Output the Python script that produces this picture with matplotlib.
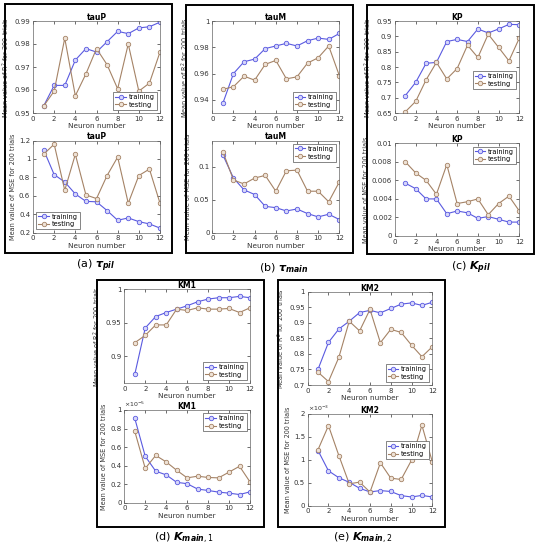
import matplotlib
matplotlib.use("Agg")
import matplotlib.pyplot as plt
from matplotlib.patches import Rectangle
from matplotlib.ticker import FuncFormatter

W, H = 543, 550

neurons = list(range(1, 13))

# R^2 and MSE
tauP_r2_train = [0.953, 0.962, 0.962, 0.973, 0.978, 0.9765, 0.981, 0.9855, 0.9845, 0.987, 0.9875, 0.9895]
tauP_r2_test = [0.953, 0.9595, 0.9825, 0.9575, 0.967, 0.978, 0.971, 0.9605, 0.980, 0.9595, 0.963, 0.9765]
tauP_mse_train = [1.10, 0.83, 0.75, 0.62, 0.54, 0.535, 0.44, 0.335, 0.36, 0.32, 0.295, 0.25]
tauP_mse_test = [1.05, 1.16, 0.66, 1.05, 0.61, 0.57, 0.82, 1.02, 0.52, 0.82, 0.89, 0.52]

tauM_r2_train = [0.9375, 0.960, 0.969, 0.971, 0.979, 0.981, 0.983, 0.981, 0.985, 0.987, 0.986, 0.9905]
tauM_r2_test = [0.948, 0.950, 0.958, 0.955, 0.967, 0.970, 0.956, 0.9575, 0.968, 0.972, 0.981, 0.9585]
tauM_mse_train = [0.118, 0.083, 0.065, 0.058, 0.040, 0.038, 0.033, 0.036, 0.029, 0.024, 0.028, 0.020]
tauM_mse_test = [0.123, 0.080, 0.074, 0.083, 0.087, 0.063, 0.094, 0.095, 0.063, 0.063, 0.047, 0.077]

KP_r2_train = [0.707, 0.750, 0.812, 0.815, 0.883, 0.890, 0.883, 0.924, 0.911, 0.924, 0.939, 0.938]
KP_r2_test = [0.654, 0.688, 0.758, 0.815, 0.761, 0.795, 0.871, 0.831, 0.907, 0.864, 0.820, 0.894]
KP_mse_train = [0.0057, 0.0051, 0.0040, 0.0040, 0.0024, 0.0027, 0.0025, 0.0019, 0.0021, 0.0018, 0.0015, 0.0015]
KP_mse_test = [0.0080, 0.0068, 0.0060, 0.0045, 0.0077, 0.0035, 0.0037, 0.0040, 0.0023, 0.0035, 0.0043, 0.0027]

KM1_r2_train = [0.873, 0.942, 0.959, 0.965, 0.970, 0.975, 0.981, 0.985, 0.987, 0.987, 0.989, 0.987]
KM1_r2_test = [0.920, 0.931, 0.9465, 0.9465, 0.970, 0.968, 0.972, 0.970, 0.970, 0.971, 0.965, 0.972]
# shown in units of 1e-5
KM1_mse_train = [0.91, 0.50, 0.34, 0.30, 0.22, 0.205, 0.147, 0.132, 0.114, 0.103, 0.088, 0.117]
KM1_mse_test = [0.77, 0.37, 0.51, 0.44, 0.35, 0.268, 0.286, 0.272, 0.268, 0.33, 0.393, 0.224]

KM2_r2_train = [0.751, 0.837, 0.880, 0.905, 0.933, 0.940, 0.932, 0.946, 0.960, 0.964, 0.956, 0.966]
KM2_r2_test = [0.741, 0.711, 0.789, 0.905, 0.874, 0.943, 0.836, 0.879, 0.869, 0.828, 0.791, 0.823]
# shown in units of 1e-3
KM2_mse_train = [1.20, 0.76, 0.61, 0.51, 0.38, 0.30, 0.33, 0.31, 0.22, 0.19, 0.225, 0.19]
KM2_mse_test = [1.225, 1.746, 1.094, 0.478, 0.514, 0.297, 0.935, 0.601, 0.572, 0.993, 1.754, 0.957]

TRAIN_C = '#5a5ae0'
TEST_C = '#a58366'
AX_C = '#333333'

plt.rcParams['font.family'] = ['DejaVu Sans']
plt.rcParams['mathtext.fontset'] = 'custom'
plt.rcParams['mathtext.rm'] = 'DejaVu Sans'
plt.rcParams['mathtext.it'] = 'DejaVu Sans:italic:bold'
plt.rcParams['mathtext.bf'] = 'DejaVu Sans:bold'

fig = plt.figure(figsize=(W / 100, H / 100), dpi=100)


def pos(l, r, t, b):
    return [l / W, 1 - b / H, (r - l) / W, (b - t) / H]


def panel(rect, title, train, test, ylim, yticks, ylabel, legend_loc, anchor=None, expo=None):
    ax = fig.add_axes(pos(*rect))
    ax.plot(neurons, train, '-o', color=TRAIN_C, lw=0.8, ms=3.2,
            mfc='#d6d6fa', mec=TRAIN_C, mew=0.6, label='training')
    ax.plot(neurons, test, '-o', color=TEST_C, lw=0.8, ms=3.2,
            mfc='#eee2d6', mec=TEST_C, mew=0.6, label='testing')
    ax.set_xlim(0, 12)
    ax.set_xticks(range(0, 13, 2))
    ax.set_ylim(*ylim)
    ax.set_yticks(yticks)
    ax.yaxis.set_major_formatter(FuncFormatter(lambda v, p: f'{v:g}'))
    ax.tick_params(direction='in', length=2, width=0.5, labelsize=5, pad=2,
                   colors=AX_C, top=True, right=True)
    for s in ax.spines.values():
        s.set_linewidth(0.5)
        s.set_color('#666666')
    ax.set_title(title, fontsize=5.5, fontweight='bold', pad=0.8)
    ax.set_xlabel('Neuron number', fontsize=5.3, labelpad=1.0, color=AX_C)
    ax.set_ylabel(ylabel, fontsize=4.7, labelpad=2, color=AX_C)
    kw = dict(fontsize=4.8, handlelength=1.6, handletextpad=0.4, borderpad=0.3,
              labelspacing=0.25, fancybox=False, framealpha=1, edgecolor='#555555')
    if anchor is not None:
        leg = ax.legend(loc=legend_loc, bbox_to_anchor=anchor, **kw)
    else:
        leg = ax.legend(loc=legend_loc, **kw)
    leg.get_frame().set_linewidth(0.5)
    if expo:
        ax.text(0.0, 1.01, expo, transform=ax.transAxes, fontsize=4.5,
                ha='left', va='bottom', color=AX_C)
    return ax


R2 = 'Mean value of R$^2$ for 200 trials'
MSE = 'Mean value of MSE for 200 trials'

# (a) tauP
panel((33, 160, 21, 113), 'tauP', tauP_r2_train, tauP_r2_test, (0.95, 0.99),
      [0.95, 0.96, 0.97, 0.98, 0.99], R2, 'lower right')
panel((33, 160, 140.5, 232.7), 'tauP', tauP_mse_train, tauP_mse_test, (0.2, 1.2),
      [0.2, 0.4, 0.6, 0.8, 1.0, 1.2], MSE, 'lower left')

# (b) tauM
panel((212.3, 339.3, 21, 113), 'tauM', tauM_r2_train, tauM_r2_test, (0.93, 1.0),
      [0.94, 0.96, 0.98, 1.0], R2, 'lower right')
panel((212.3, 339.3, 140.5, 232.7), 'tauM', tauM_mse_train, tauM_mse_test, (0, 0.14),
      [0, 0.05, 0.1], MSE, 'upper right')

# (c) KP
panel((395, 519.3, 21, 113), 'KP', KP_r2_train, KP_r2_test, (0.65, 0.95),
      [0.65, 0.7, 0.75, 0.8, 0.85, 0.9, 0.95], R2, 'center right', (1.0, 0.36))
panel((395, 519.3, 143.3, 236), 'KP', KP_mse_train, KP_mse_test, (0, 0.01),
      [0, 0.002, 0.004, 0.006, 0.008, 0.01], MSE, 'upper right')

# (d) KM1
panel((124.3, 250, 289, 383), 'KM1', KM1_r2_train, KM1_r2_test, (0.86, 1.0),
      [0.9, 0.95, 1.0], R2, 'lower right')
panel((124.3, 250, 410, 502.7), 'KM1', KM1_mse_train, KM1_mse_test, (0, 1),
      [0, 0.2, 0.4, 0.6, 0.8, 1.0], MSE, 'upper right', expo=r'$\times10^{-5}$')

# (e) KM2
panel((307.7, 432.3, 291.7, 385), 'KM2', KM2_r2_train, KM2_r2_test, (0.7, 1.0),
      [0.7, 0.75, 0.8, 0.85, 0.9, 0.95, 1.0], R2, 'lower right')
panel((307.7, 432.3, 414, 505.7), 'KM2', KM2_mse_train, KM2_mse_test, (0, 2),
      [0, 0.5, 1.0, 1.5, 2.0], MSE, 'upper right', (1.0, 0.74), expo=r'$\times10^{-3}$')

# panel frames
frames = [(5, 172, 4, 253), (186, 353, 5, 253), (367, 534, 5, 254),
          (97, 264, 279.5, 527), (278, 445, 279.5, 527)]
for l, r, t, b in frames:
    fig.patches.append(Rectangle((l / W, 1 - b / H), (r - l) / W, (b - t) / H,
                                 transform=fig.transFigure, fill=False,
                                 edgecolor='black', lw=1.4))

captions = [(96, 266, r'(a) $\tau_{pil}$'),
            (284, 268, r'(b) $\tau_{main}$'),
            (471, 268, r'(c) $K_{pil}$'),
            (184, 538, r'(d) $K_{main,1}$'),
            (363, 538, r'(e) $K_{main,2}$')]
for x, y, s in captions:
    fig.text(x / W, 1 - y / H, s, ha='center', va='center', fontsize=8)

fig.savefig('out.png', dpi=100)
